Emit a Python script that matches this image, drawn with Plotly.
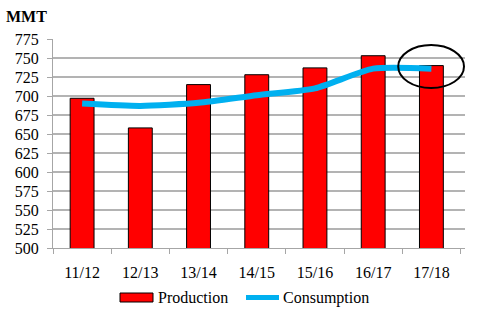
import plotly.graph_objects as go

categories = ["11/12", "12/13", "13/14", "14/15", "15/16", "16/17", "17/18"]
production = [697, 658, 715, 728, 737, 753, 740]
consumption = [690, 687, 691, 701, 710, 736, 736]
y_ticks = list(range(500, 776, 25))

FONT = "Liberation Serif"
TF = dict(family=FONT, size=16, color="#000000")

# plot area geometry in pixels (for paper-coordinate decorations)
L, R, T, B, W, H = 53, 22, 39, 73, 487, 321
PW, PH = W - L - R, H - T - B


def px(x):
    return (x - L) / PW


def py(y):
    return (H - B - y) / PH


fig = go.Figure()
fig.add_trace(go.Bar(
    x=categories, y=production, name="Production", showlegend=False,
    marker=dict(color="#FF0000", line=dict(color="#000000", width=1)),
))
fig.add_trace(go.Scatter(
    x=categories, y=consumption, name="Consumption", mode="lines", showlegend=False,
    line=dict(color="#00B0F0", width=6, shape="spline", smoothing=0.6),
))

# ellipse highlighting the last season
fig.add_shape(type="circle", xref="x", yref="y",
              x0=5.43, x1=6.56, y0=710.5, y1=767,
              line=dict(color="#000000", width=2))

# legend drawn as decorations
fig.add_shape(type="rect", xref="paper", yref="paper",
              x0=px(120), x1=px(153), y0=py(302), y1=py(293),
              fillcolor="#FF0000", line=dict(color="#000000", width=1))
fig.add_shape(type="line", xref="paper", yref="paper",
              x0=px(246), x1=px(279), y0=py(297.5), y1=py(297.5),
              line=dict(color="#00B0F0", width=5))
fig.add_annotation(text="Production", xref="paper", yref="paper",
                   x=px(156), y=py(297.5), xanchor="left", yanchor="middle",
                   showarrow=False, font=TF)
fig.add_annotation(text="Consumption", xref="paper", yref="paper",
                   x=px(281), y=py(297.5), xanchor="left", yanchor="middle",
                   showarrow=False, font=TF)

fig.add_annotation(text="<b>MMT</b>", xref="paper", yref="paper",
                   x=px(4), y=py(17), xanchor="left", yanchor="middle",
                   showarrow=False, font=TF)

fig.update_layout(
    width=W, height=H,
    margin=dict(l=L, r=R, t=T, b=B),
    paper_bgcolor="white", plot_bgcolor="white",
    font=TF,
    bargap=0.59,
    showlegend=False,
    xaxis=dict(type="category", showline=True, linecolor="#A6A6A6", linewidth=1,
               ticks="outside", tickson="boundaries", ticklen=5, tickcolor="#A6A6A6",
               showgrid=False, ticklabelstandoff=10, fixedrange=True, tickfont=TF),
    yaxis=dict(range=[500, 775], tickvals=y_ticks, showline=True, linecolor="#A6A6A6",
               linewidth=1, ticks="outside", ticklen=5, tickcolor="#A6A6A6",
               showgrid=True, gridcolor="#B3B3B3", gridwidth=1.5, zeroline=False,
               fixedrange=True, tickfont=TF, ticklabelstandoff=5),
)

fig.write_html("out.html")
